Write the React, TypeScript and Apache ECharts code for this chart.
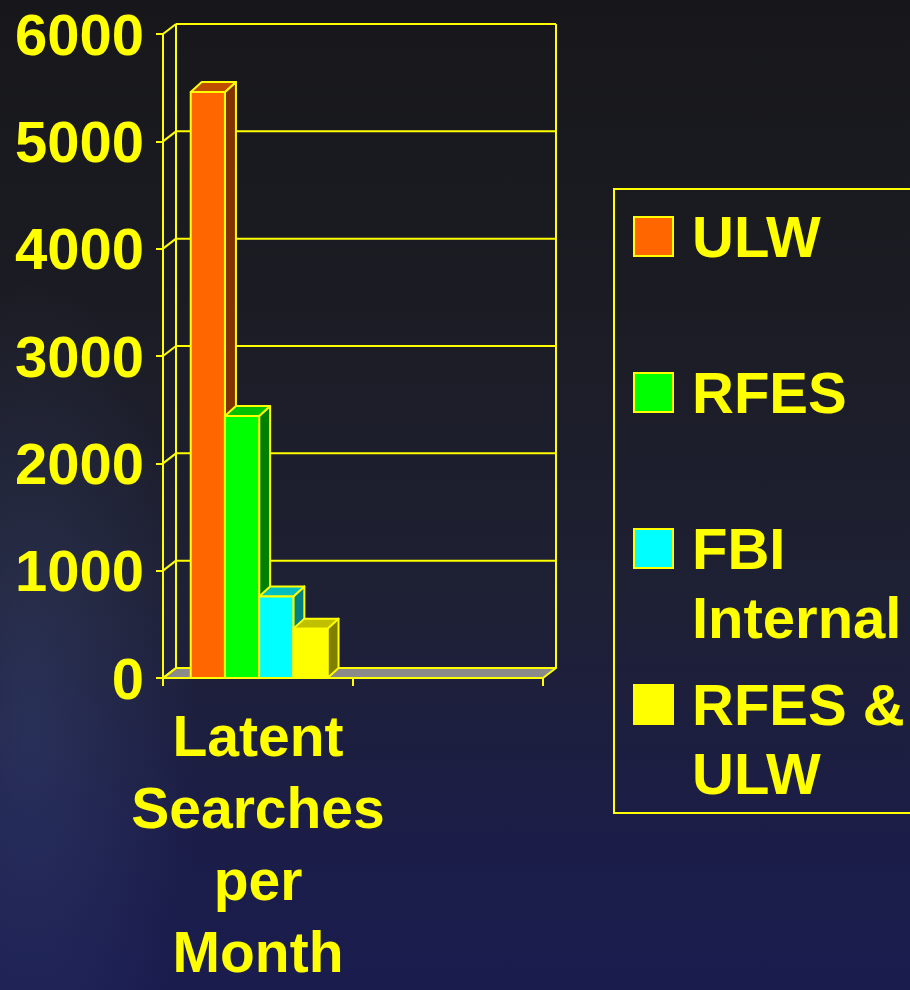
import React, { useEffect, useRef } from 'react';
import * as echarts from 'echarts';

const categories = ['Latent Searches per Month', ''];
const seriesNames = ['ULW', 'RFES', 'FBI Internal', 'RFES & ULW'];
const legendLabels = ['ULW\n ', 'RFES\n ', 'FBI\nInternal', 'RFES &\nULW'];
const ulwValues = [5460];
const rfesValues = [2440];
const fbiValues = [760];
const rfesUlwValues = [460];
const yTicks = [0, 1000, 2000, 3000, 4000, 5000, 6000];

const barValues = [ulwValues, rfesValues, fbiValues, rfesUlwValues];
const palette = [
  { front: '#ff6600', top: '#bf4d00', side: '#803300' },
  { front: '#00ff00', top: '#00c000', side: '#008000' },
  { front: '#00ffff', top: '#00c0c0', side: '#008080' },
  { front: '#ffff00', top: '#c0c000', side: '#808000' },
];

const YEL = '#ffff00';
const FONT = "'Liberation Sans', Arial, Helvetica, sans-serif";
const WALL_DX = 13;
const WALL_DY = 10;
const BAR_DX = 11;
const BAR_DY = 10;
const BAR_START = 0.146;
const BAR_FRAC = 0.18;

export default function App() {
  const ref = useRef<HTMLDivElement>(null);
  useEffect(() => {
    document.body.style.margin = '0';
    if (!ref.current) return;
    const chart = echarts.init(ref.current, null, { renderer: 'svg' });

    const frameSeries: any = {
      type: 'custom',
      name: 'frame',
      coordinateSystem: 'cartesian2d',
      silent: true,
      clip: false,
      z: 1,
      data: yTicks.map((v) => [0, v]),
      encode: { x: 0, y: 1 },
      renderItem: (params: any, api: any) => {
        const cs = params.coordSys;
        const x0 = cs.x;
        const x1 = cs.x + cs.width;
        const y = api.coord([0, api.value(1)])[1];
        const children: any[] = [];
        if (params.dataIndex === 0) {
          const yTop = api.coord([0, yTicks[yTicks.length - 1]])[1];
          children.push({
            type: 'polygon',
            shape: { points: [[x0, y], [x1, y], [x1 + WALL_DX, y - WALL_DY], [x0 + WALL_DX, y - WALL_DY]] },
            style: { fill: '#8a8a8a', stroke: YEL, lineWidth: 2, lineJoin: 'round' },
          });
          children.push({
            type: 'line',
            shape: { x1: x0 + WALL_DX, y1: y - WALL_DY, x2: x0 + WALL_DX, y2: yTop - WALL_DY },
            style: { stroke: YEL, lineWidth: 2 },
          });
          children.push({
            type: 'line',
            shape: { x1: x1 + WALL_DX, y1: y - WALL_DY, x2: x1 + WALL_DX, y2: yTop - WALL_DY },
            style: { stroke: YEL, lineWidth: 2 },
          });
        }
        children.push({
          type: 'line',
          shape: { x1: x0, y1: y, x2: x0 + WALL_DX, y2: y - WALL_DY },
          style: { stroke: YEL, lineWidth: 2 },
        });
        children.push({
          type: 'line',
          shape: { x1: x0 + WALL_DX, y1: y - WALL_DY, x2: x1 + WALL_DX, y2: y - WALL_DY },
          style: { stroke: YEL, lineWidth: 2 },
        });
        return { type: 'group', children };
      },
    };

    const barSeries = barValues.map((vals, si) => ({
      type: 'custom',
      name: seriesNames[si],
      coordinateSystem: 'cartesian2d',
      clip: false,
      z: 2,
      itemStyle: { color: palette[si].front },
      data: vals.map((v, i) => [i, v]),
      encode: { x: 0, y: 1 },
      renderItem: (params: any, api: any) => {
        const cat = api.value(0);
        const val = api.value(1);
        const band = api.size([1, 0])[0];
        const top = api.coord([cat, val]);
        const base = api.coord([cat, 0]);
        const bandLeft = top[0] - band / 2;
        const w = band * BAR_FRAC;
        const x = bandLeft + band * BAR_START + si * w;
        const yT = top[1];
        const yB = base[1];
        const stroke = { stroke: YEL, lineWidth: 2, lineJoin: 'round' };
        return {
          type: 'group',
          children: [
            {
              type: 'polygon',
              shape: { points: [[x + w, yT], [x + w + BAR_DX, yT - BAR_DY], [x + w + BAR_DX, yB - BAR_DY], [x + w, yB]] },
              style: { fill: palette[si].side, ...stroke },
            },
            {
              type: 'polygon',
              shape: { points: [[x, yT], [x + BAR_DX, yT - BAR_DY], [x + w + BAR_DX, yT - BAR_DY], [x + w, yT]] },
              style: { fill: palette[si].top, ...stroke },
            },
            {
              type: 'rect',
              shape: { x, y: yT, width: w, height: yB - yT },
              style: { fill: palette[si].front, ...stroke },
            },
          ],
        };
      },
    }));

    const option: any = {
      animation: false,
      tooltip: { show: false },
      grid: { left: 163, right: 367, top: 34, bottom: 312, containLabel: false, outerBoundsMode: 'none' },
      xAxis: {
        type: 'category',
        data: categories,
        boundaryGap: true,
        axisLine: { show: true, lineStyle: { color: YEL, width: 2 } },
        axisTick: { show: true, length: 8, interval: 0, lineStyle: { color: YEL, width: 2 } },
        axisLabel: {
          interval: 0,
          margin: 22,
          color: YEL,
          fontFamily: FONT,
          fontWeight: 'bold',
          fontSize: 57,
          lineHeight: 72,
          formatter: (v: string) => v.split(' ').join('\n'),
        },
        splitLine: { show: false },
      },
      yAxis: {
        type: 'value',
        min: 0,
        max: 6000,
        interval: 1000,
        axisLine: { show: true, lineStyle: { color: YEL, width: 2 } },
        axisTick: { show: true, length: 7, lineStyle: { color: YEL, width: 2 } },
        axisLabel: {
          margin: 19,
          color: YEL,
          fontFamily: FONT,
          fontWeight: 'bold',
          fontSize: 58,
          formatter: (v: number) => String(v),
        },
        splitLine: { show: false },
      },
      legend: {
        show: true,
        orient: 'vertical',
        left: 614,
        top: 189,
        padding: [13, 10, 5, 19],
        itemGap: 18,
        itemWidth: 39,
        itemHeight: 108,
        icon: 'path://M0,0L39,0L39,39L0,39Z M0,108',
        selectedMode: false,
        borderColor: YEL,
        borderWidth: 2,
        itemStyle: { borderColor: YEL, borderWidth: 2 },
        data: seriesNames,
        formatter: (name: string) => legendLabels[seriesNames.indexOf(name)],
        textStyle: {
          color: YEL,
          fontFamily: FONT,
          fontWeight: 'bold',
          fontSize: 58,
          lineHeight: 69,
          padding: [0, 0, 0, 14],
        },
      },
      series: [frameSeries, ...barSeries],
    };
    chart.setOption(option);
    return () => chart.dispose();
  }, []);

  return (
    <div
      ref={ref}
      style={{
        position: 'absolute',
        left: 0,
        top: 0,
        width: 910,
        height: 990,
        background:
          'radial-gradient(ellipse 170px 440px at 30px 720px, rgba(75,95,155,0.28), rgba(75,95,155,0) 100%), linear-gradient(to bottom, #17171b 0%, #1b1c23 30%, #1e2034 60%, #1b1d48 85%, #1a1c4e 100%)',
      }}
    />
  );
}
